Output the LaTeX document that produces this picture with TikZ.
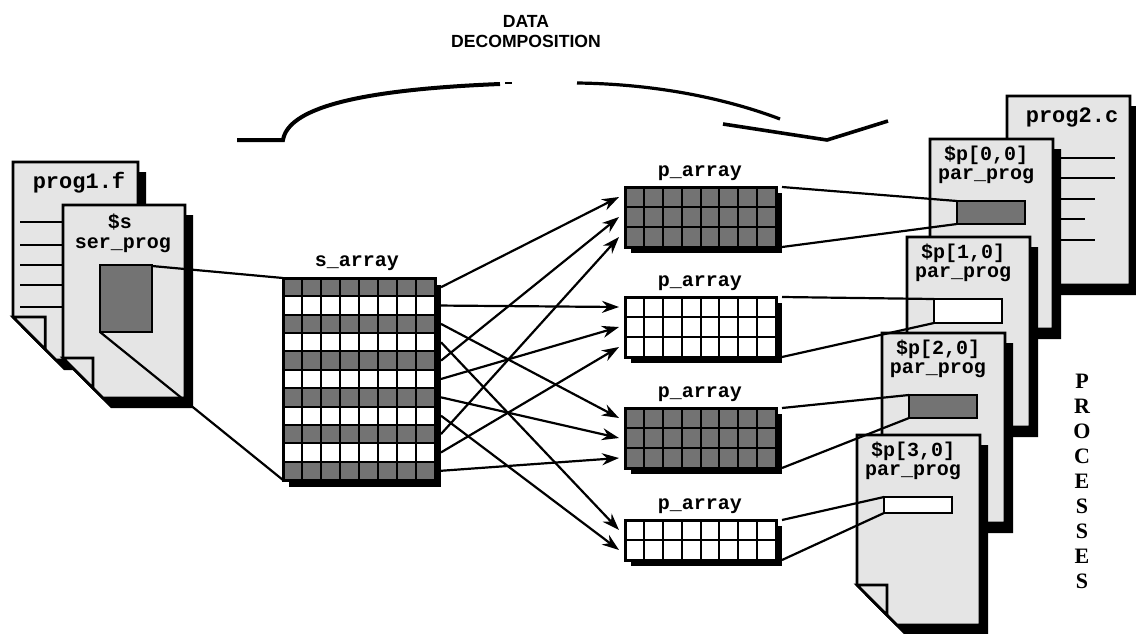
\documentclass[tikz,border=0pt]{standalone}
\usepackage{fontspec}
\usetikzlibrary{arrows.meta}

\newfontfamily\codefont{Liberation Mono}
\newfontfamily\headfont{Liberation Sans}
\newfontfamily\procfont{Liberation Serif}

% page with a folded lower left corner: left, top, right, bottom, fold
\newcommand{\docpage}[5]{%
  \fill[shift={(8,10)}] (#1,#2) -- (#3,#2) -- (#3,#4) -- ({#1+#5},#4) -- (#1,{#4-#5}) -- cycle;
  \filldraw[page] (#1,#2) -- (#3,#2) -- (#3,#4) -- ({#1+#5},#4) -- (#1,{#4-#5}) -- cycle;
  \filldraw[page] (#1,{#4-#5}) -- ({#1+0.75*#5},{#4-#5}) -- ({#1+0.75*#5},{#4-0.25*#5}) -- cycle;
}

\begin{document}
\begin{tikzpicture}[x=0.5pt,y=-0.5pt,
    page/.style={fill=black!10,draw=black,line width=1.4pt,line join=miter},
    gridline/.style={line width=1pt},
    gridframe/.style={draw,line width=1.5pt},
    cellfill/.style={fill=black!55},
    flow/.style={-{Stealth[length=8.5pt,width=6pt]},line width=1.1pt},
    link/.style={line width=1.1pt},
    lbl/.style={font=\codefont\bfseries\fontsize{10}{12}\selectfont,inner sep=0pt},
    filetxt/.style={font=\codefont\bfseries\fontsize{11}{13}\selectfont,inner sep=0pt},
    headtxt/.style={font=\headfont\bfseries\fontsize{8.8}{10}\selectfont,align=center},
    proctxt/.style={font=\procfont\bfseries\fontsize{11}{12.5}\selectfont,align=center}]
    \useasboundingbox (0,0) rectangle (1136,633);

    % heading and the bent arrow under it
    \node[headtxt] (title) at (526,32) {DATA\\DECOMPOSITION};
    \draw[line width=2pt] (237,140) -- (283,140) .. controls (288,110) and (350,90) .. (500,84);
    \draw[line width=1.4pt] (505,83) -- (512,83);
    \draw[line width=1.6pt] (577,83) .. controls (660,84) and (730,100) .. (780,119);
    \draw[line width=1.8pt,line join=miter] (723,124) -- (827,140) -- (888,121);

    % serial program
    \docpage{13}{162}{138}{360}{43}
    \node[filetxt] (prog1) at (79,183) {prog1.f};
    \foreach \y in {222,245,265,285,307} \draw[line width=1.2pt] (20,\y) -- (90,\y);
    \docpage{63}{205}{185}{398}{40}
    \node[lbl] (sname) at (120,222) {\$s};
    \node[lbl] (sprog) at (123,245) {ser\_prog};
    \filldraw[cellfill,draw=black,line width=1.2pt] (100,265) rectangle (152,332);
    \coordinate (sbox-ne) at (152,266);
    \coordinate (sbox-sw) at (100,332);

    % s_array
    \node[lbl] (sarr) at (357,263) {s\_array};
    \fill (289,285) rectangle (441,487);
    \fill[white] (283,278) rectangle (435,480);
    \foreach \r in {1,3,...,11} \fill[cellfill] (283,{278+(\r-1)*18.36}) rectangle (435,{278+\r*18.36});
    \foreach \c in {1,...,7} \draw[gridline] ({283+\c*19},278) -- ({283+\c*19},480);
    \foreach \r in {1,...,10} \draw[gridline] (283,{278+\r*18.36}) -- (435,{278+\r*18.36});
    \draw[gridframe] (283,278) rectangle (435,480);
    \coordinate (sa-nw) at (283,278);
    \coordinate (sa-sw) at (283,480);
    \foreach \k in {1,...,11} \coordinate (s-\k) at (441,{278+(\k-0.5)*18.36});
    \draw[link] (sbox-ne) -- (sa-nw);
    \draw[link] (sbox-sw) -- (sa-sw);

    % p_arrays
    \foreach \j/\ya/\nr/\fl in {0/187/3/cellfill,1/297/3/white,2/408/3/cellfill,3/520/2/white} {
        \pgfmathtruncatemacro\nm{\nr-1}
        \node[lbl] (pa-\j) at (700,{\ya-14}) {p\_array};
        \fill (631,{\ya+6}) rectangle (782,{\ya+\nr*20+6});
        \fill[\fl] (625,\ya) rectangle (776,{\ya+\nr*20});
        \foreach \c in {1,...,7} \draw[gridline] ({625+\c*18.875},\ya) -- ({625+\c*18.875},{\ya+\nr*20});
        \foreach \r in {1,...,\nm} \draw[gridline] (625,{\ya+\r*20}) -- (776,{\ya+\r*20});
        \draw[gridframe] (625,\ya) rectangle (776,{\ya+\nr*20});
        \coordinate (pa-\j-ne) at (782,\ya);
        \coordinate (pa-\j-se) at (782,{\ya+\nr*20});
        \foreach \r in {1,...,\nr} \coordinate (p-\j-\r) at (619,{\ya+(\r-0.5)*20});
    }
    \foreach \k in {1,...,11} {
        \pgfmathtruncatemacro\pj{mod(\k-1,4)}
        \pgfmathtruncatemacro\pr{div(\k-1,4)+1}
        \draw[flow] (s-\k) -- (p-\pj-\pr);
    }

    % parallel processes
    \docpage{1007}{96}{1130}{285}{40}
    \node[filetxt] (prog2) at (1072,117) {prog2.c};
    \foreach \y/\e in {158/1115,178/1115,199/1095,219/1085,240/1095} \draw[line width=1.2pt] (1040,\y) -- (\e,\y);
    \foreach \j/\L/\T/\bh/\fl in {0/930/139/23/cellfill,1/907/237/24/white,2/882/333/23/cellfill,3/857/435/16/white} {
        \docpage{\L}{\T}{\L+123}{\T+190}{40}
        \node[lbl] (pid-\j) at ({\L+56},{\T+16}) {\$p[\j,0]};
        \node[lbl] (pprog-\j) at ({\L+56},{\T+37}) {par\_prog};
        \filldraw[\fl,draw=black,line width=1.2pt] ({\L+27},{\T+62}) rectangle ({\L+95},{\T+62+\bh});
        \coordinate (bx-\j-nw) at ({\L+27},{\T+62});
        \coordinate (bx-\j-sw) at ({\L+27},{\T+62+\bh});
    }
    \foreach \j in {0,...,3} {
        \draw[link] (pa-\j-ne) -- (bx-\j-nw);
        \draw[link] (pa-\j-se) -- (bx-\j-sw);
    }

    \node[proctxt] (procs) at (1082,481) {P\\R\\O\\C\\E\\S\\S\\E\\S};
\end{tikzpicture}
\end{document}
